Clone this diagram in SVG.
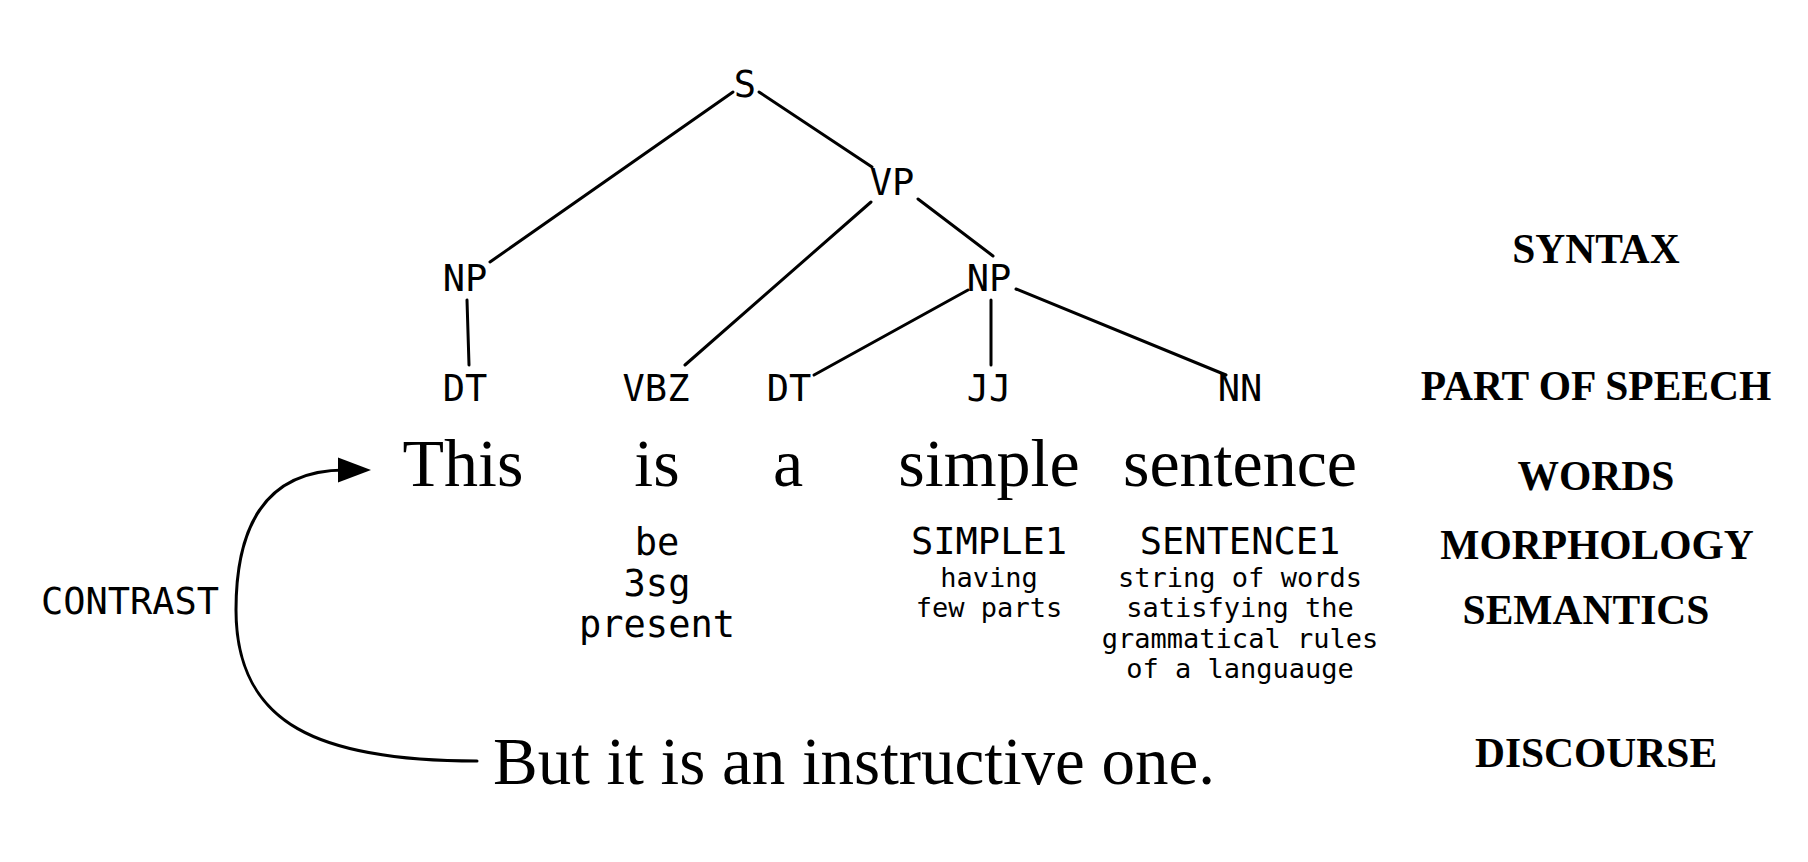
<svg xmlns="http://www.w3.org/2000/svg" width="1808" height="862" viewBox="0 0 1808 862">
<style>
.mono{font-family:"DejaVu Sans Mono","Liberation Mono",monospace;font-size:37px;fill:#000;text-anchor:middle}
.small{font-family:"DejaVu Sans Mono","Liberation Mono",monospace;font-size:27px;fill:#000;text-anchor:middle}
.word{font-family:"Liberation Serif","Times New Roman",serif;font-size:68px;fill:#000;text-anchor:middle}
.level{font-family:"Liberation Serif","Times New Roman",serif;font-size:41.5px;font-weight:bold;fill:#000;text-anchor:middle}
.edge{stroke:#000;stroke-width:3;fill:none;stroke-linecap:round}
</style>
<defs>
<marker id="arrow" viewBox="-10 -15 40 30" refX="0" refY="0" markerWidth="40" markerHeight="30" markerUnits="userSpaceOnUse" orient="auto">
<path d="M-7,-12.5 L26,0 L-7,12.5 z" fill="#000"/>
</marker>
</defs>
<rect width="1808" height="862" fill="#fff"/>
<g id="connectors">
<line class="edge" x1="733" y1="92" x2="490" y2="262"/>
<line class="edge" x1="759" y1="92" x2="872" y2="167"/>
<line class="edge" x1="871" y1="202" x2="685" y2="365"/>
<line class="edge" x1="918" y1="199" x2="993" y2="256"/>
<line class="edge" x1="467" y1="300" x2="469" y2="365"/>
<line class="edge" x1="968" y1="290" x2="814" y2="375"/>
<line class="edge" x1="991" y1="300" x2="991" y2="365"/>
<line class="edge" x1="1016" y1="289" x2="1226" y2="375"/>
<path id="contrast-arrow" class="edge" d="M477,761 C320,761 236,725 236,610 C236,520 270,470 345,470" marker-end="url(#arrow)"/>
</g>
<g id="node-S"><text class="mono" x="745" y="97">S</text></g>
<g id="node-VP"><text class="mono" x="892" y="195">VP</text></g>
<g id="node-NP1"><text class="mono" x="465" y="291">NP</text></g>
<g id="node-NP2"><text class="mono" x="989" y="291">NP</text></g>
<g id="node-DT1"><text class="mono" x="465" y="401">DT</text></g>
<g id="node-VBZ"><text class="mono" x="656" y="401">VBZ</text></g>
<g id="node-DT2"><text class="mono" x="789" y="401">DT</text></g>
<g id="node-JJ"><text class="mono" x="989" y="401">JJ</text></g>
<g id="node-NN"><text class="mono" x="1240" y="401">NN</text></g>
<g id="word-This"><text class="word" x="463" y="486">This</text></g>
<g id="word-is"><text class="word" x="657" y="486">is</text></g>
<g id="word-a"><text class="word" x="788" y="486">a</text></g>
<g id="word-simple"><text class="word" x="989" y="486">simple</text></g>
<g id="word-sentence"><text class="word" x="1240" y="486">sentence</text></g>
<g id="morph-is">
<text class="mono" x="657" y="555">be</text>
<text class="mono" x="657" y="596">3sg</text>
<text class="mono" x="657" y="637">present</text>
</g>
<g id="sem-simple">
<text class="mono" x="989" y="554">SIMPLE1</text>
<text class="small" x="989" y="587">having</text>
<text class="small" x="989" y="617">few parts</text>
</g>
<g id="sem-sentence">
<text class="mono" x="1240" y="554">SENTENCE1</text>
<text class="small" x="1240" y="587">string of words</text>
<text class="small" x="1240" y="617">satisfying the</text>
<text class="small" x="1240" y="648">grammatical rules</text>
<text class="small" x="1240" y="678">of a languauge</text>
</g>
<g id="discourse-sentence"><text class="word" x="493" y="784" style="text-anchor:start;font-size:67px">But it is an instructive one.</text></g>
<g id="label-contrast"><text class="mono" x="130" y="614">CONTRAST</text></g>
<g id="levels">
<text class="level" x="1596" y="263">SYNTAX</text>
<text class="level" x="1596" y="400">PART OF SPEECH</text>
<text class="level" x="1596" y="490">WORDS</text>
<text class="level" x="1597" y="559">MORPHOLOGY</text>
<text class="level" x="1586" y="624">SEMANTICS</text>
<text class="level" x="1596" y="767">DISCOURSE</text>
</g>
</svg>
